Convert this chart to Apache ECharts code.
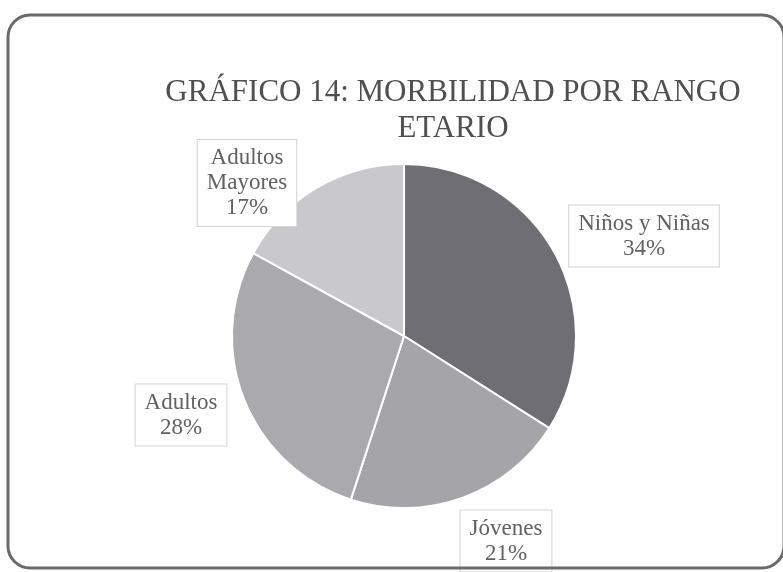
<!DOCTYPE html>
<html>
<head>
<meta charset="utf-8">
<script src="https://cdn.jsdelivr.net/npm/echarts@6/dist/echarts.min.js"></script>
<style>html,body{margin:0;padding:0;background:#fff;}#c{width:783px;height:572px;}</style>
</head>
<body>
<div id="c"></div>
<script>
const titleText = "GRÁFICO 14: MORBILIDAD POR RANGO\nETARIO";
const categories = ["Niños y Niñas", "Jóvenes", "Adultos", "Adultos\nMayores"];
const values = [34, 21, 28, 17];
const colors = ["#6e6e74", "#a4a4a9", "#a9a9ae", "#c8c8cd"];
// label box centres (layout, not data)
const labelPos = [[644, 236], [506, 541], [181, 415], [247, 183]];

const chart = echarts.init(document.getElementById('c'), null, {renderer: 'canvas'});
chart.setOption({
  backgroundColor: '#ffffff',
  animation: false,
  title: {
    text: titleText,
    left: 448,
    textAlign: 'center',
    top: 70,
    textStyle: {
      fontFamily: 'Liberation Serif',
      fontSize: 31,
      fontWeight: 'normal',
      color: '#505050',
      lineHeight: 36
    }
  },
  graphic: [{
    type: 'rect',
    shape: {x: 8, y: 15, width: 776, height: 553, r: 22},
    style: {fill: 'none', stroke: '#6a6a6a', lineWidth: 3},
    z: 100
  }],
  series: [{
    type: 'pie',
    center: [404, 336],
    radius: [0, 172],
    startAngle: 90,
    clockwise: true,
    data: categories.map((c, i) => ({name: c, value: values[i], itemStyle: {color: colors[i]}})),
    itemStyle: {borderColor: '#ffffff', borderWidth: 2},
    label: {
      show: true,
      position: 'outside',
      formatter: p => p.name + '\n' + p.value + '%',
      fontFamily: 'Liberation Serif',
      fontSize: 23,
      lineHeight: 25,
      color: '#626262',
      align: 'center',
      backgroundColor: '#ffffff',
      borderColor: '#d2d2d2',
      borderWidth: 1,
      padding: [6, 9, 5, 9]
    },
    labelLine: {show: false},
    labelLayout: function (params) {
      const p = labelPos[params.dataIndex];
      return {x: p[0], y: p[1], align: 'center', verticalAlign: 'middle'};
    }
  }]
});
</script>
</body>
</html>
